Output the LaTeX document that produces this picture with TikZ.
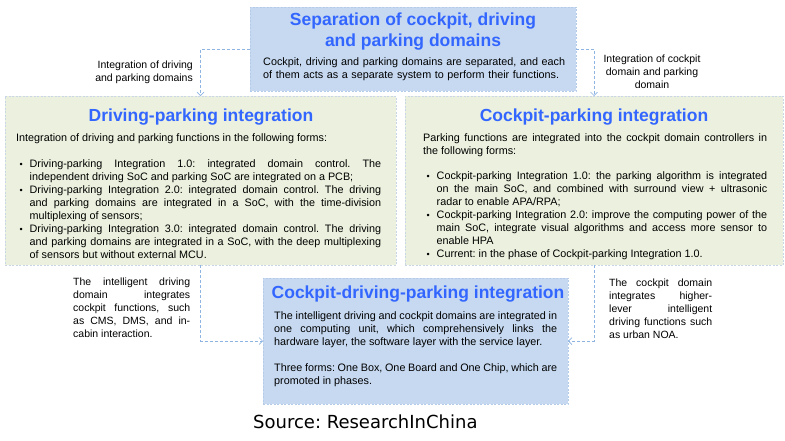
\documentclass[tikz,border=0pt]{standalone}
\usepackage{fontspec}
\setmainfont{Liberation Sans}
\newfontfamily\srcfont{DejaVu Sans}
\usepackage{enumitem}
\usepackage{xcolor}
\usepackage{tikz}
\usetikzlibrary{arrows.meta}
\frenchspacing

\definecolor{titleblue}{HTML}{3366FF}
\definecolor{boxblue}{HTML}{C6D9F1}
\definecolor{boxgreen}{HTML}{EBF1DE}
\definecolor{edgeblue}{HTML}{B4CBEA}
\definecolor{edgegreen}{HTML}{C9D6E6}
\definecolor{linkblue}{HTML}{8DB4E2}

\setlist[itemize]{label={\small\textbullet}, leftmargin=13.5pt, labelsep=7pt,
  itemsep=0pt, topsep=0pt, partopsep=0pt, parsep=0pt}

\begin{document}
\begin{tikzpicture}[x=1pt, y=-1pt,
  panel/.style={inner sep=0pt, outer sep=0pt, dash pattern=on 2pt off 1.5pt, line width=0.6pt},
  bluepanel/.style={panel, fill=boxblue, draw=edgeblue},
  greenpanel/.style={panel, fill=boxgreen, draw=edgegreen},
  headline/.style={font=\fontsize{17.5}{21}\selectfont\bfseries, text=titleblue, inner sep=0pt},
  bodytext/.style={font=\fontsize{10.8}{13}\selectfont, inner sep=0pt, align=justify, anchor=north west},
  sidenote/.style={font=\fontsize{10.5}{13}\selectfont, inner sep=0pt},
  link/.style={linkblue, dash pattern=on 3pt off 2pt, line width=0.7pt, -{Straight Barb[length=3.5pt,width=7pt]}}]
\fill[white] (0,0) rectangle (785,440);
\useasboundingbox (0,0) rectangle (785,440);

\node[bluepanel, minimum width=326pt, minimum height=84pt] (sep) at (413,49) {};
\node[greenpanel, minimum width=391pt, minimum height=169pt] (dp) at (200.5,180.5) {};
\node[greenpanel, minimum width=378pt, minimum height=169pt] (cp) at (594,180.5) {};
\node[bluepanel, minimum width=305pt, minimum height=126pt] (cdp) at (415.5,341) {};

\node[headline, anchor=north, align=center] (septitle) at (413,12.5)
  {Separation of cockpit, driving\\and parking domains};
\node[bodytext, text width=305pt, align=left] (septext) at (263,57)
  {Cockpit, driving and parking domains are separated, and each\\of them acts as a separate system to perform their functions.};

\node[headline, anchor=base] (dptitle) at (201,121) {Driving-parking integration};
\node[bodytext, text width=365pt] (dptext) at (16,133)
  {Integration of driving and parking functions in the following forms:\par\vspace{13pt}
  \begin{itemize}
  \item Driving-parking Integration 1.0: integrated domain control. The\linebreak
    independent driving SoC and parking SoC are integrated on a PCB;
  \item Driving-parking Integration 2.0: integrated domain control. The driving\linebreak
    and parking domains are integrated in a SoC, with the time-division\linebreak
    multiplexing of sensors;
  \item Driving-parking Integration 3.0: integrated domain control. The driving\linebreak
    and parking domains are integrated in a SoC, with the deep multiplexing\linebreak
    of sensors but without external MCU.
  \end{itemize}};

\node[headline, anchor=base] (cptitle) at (594,121) {Cockpit-parking integration};
\node[bodytext, text width=344pt] (cptext) at (423,133)
  {Parking functions are integrated into the cockpit domain controllers in\linebreak
  the following forms:\par\vspace{12pt}
  \begin{itemize}
  \item Cockpit-parking Integration 1.0: the parking algorithm is integrated\linebreak
    on the main SoC, and combined with surround view + ultrasonic\linebreak
    radar to enable APA/RPA;
  \item Cockpit-parking Integration 2.0: improve the computing power of the\linebreak
    main SoC, integrate visual algorithms and access more sensor to\linebreak
    enable HPA
  \item Current: in the phase of Cockpit-parking Integration 1.0.
  \end{itemize}};

\node[headline, anchor=base] (cdptitle) at (418,298) {Cockpit-driving-parking integration};
\node[bodytext, text width=283pt] (cdptext) at (274,311)
  {The intelligent driving and cockpit domains are integrated in\linebreak
  one computing unit, which comprehensively links the\linebreak
  hardware layer, the software layer with the service layer.\par\vspace{13pt}
  Three forms: One Box, One Board and One Chip, which are\linebreak
  promoted in phases.};

\node[sidenote, anchor=north east, align=right] (dpnote) at (193,61)
  {Integration of driving\\and parking domains};
\node[sidenote, anchor=north, align=center] (cpnote) at (652,55)
  {Integration of cockpit\\domain and parking\\domain};
\node[sidenote, anchor=north west, text width=117pt, align=justify] (cdpnote) at (73,278)
  {The intelligent driving\linebreak domain integrates\linebreak cockpit functions, such\linebreak
  as CMS, DMS, and in-\linebreak cabin interaction.};
\node[sidenote, anchor=north west, text width=103pt, align=justify] (cpdnote) at (609,279)
  {The cockpit domain\linebreak integrates higher-\linebreak lever intelligent\linebreak
  driving functions such\linebreak as urban NOA.};

\node[anchor=base west, inner sep=0pt, font=\srcfont\fontsize{18}{21}\selectfont] (source) at (253,428)
  {Source: ResearchInChina};

\draw[link] (sep.west) -| (dp.north);
\draw[link] (sep.east) -| (cp.north);
\draw[link] (dp.south) |- (cdp.west);
\draw[link] (cp.south) |- (cdp.east);
\end{tikzpicture}
\end{document}
